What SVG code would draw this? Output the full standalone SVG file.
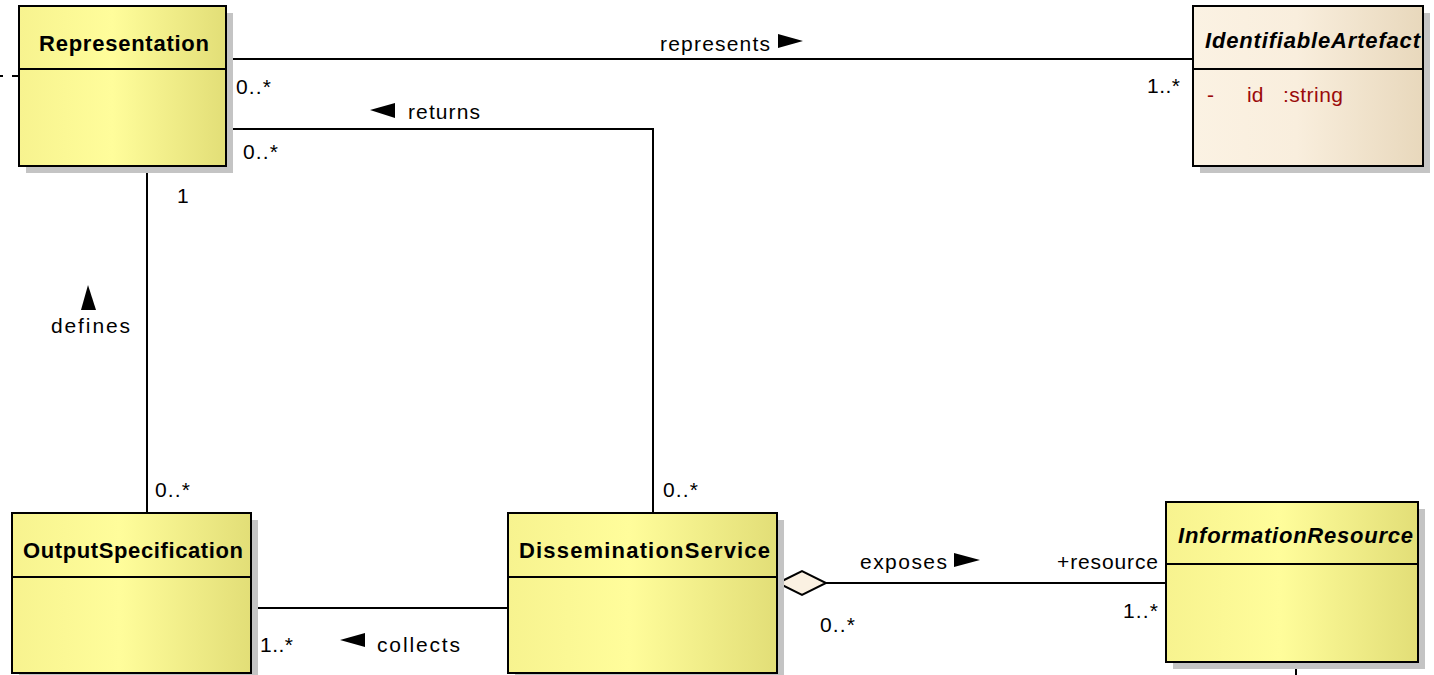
<svg xmlns="http://www.w3.org/2000/svg" width="1434" height="675" viewBox="0 0 1434 675">
  <defs>
    <linearGradient id="classFill" x1="0" y1="0" x2="1" y2="0">
      <stop offset="0" stop-color="#F7F38F"/>
      <stop offset="0.45" stop-color="#FFFD9B"/>
      <stop offset="1" stop-color="#E2DE77"/>
    </linearGradient>
    <linearGradient id="abstractFill" x1="0" y1="0" x2="1" y2="0">
      <stop offset="0" stop-color="#FBF2E3"/>
      <stop offset="0.45" stop-color="#F9EEDD"/>
      <stop offset="1" stop-color="#E8D8BC"/>
    </linearGradient>
    <style>
      .shadow { fill: #C4C4C4; }
      .box { stroke: #000; stroke-width: 2; }
      .cls { fill: url(#classFill); }
      .abs { fill: url(#abstractFill); }
      .sep { stroke: #000; stroke-width: 2; }
      .title { font-family: "Liberation Sans", Arial, sans-serif; font-weight: bold; font-size: 22px; fill: #000; }
      .italic { font-style: italic; }
      .lbl { font-family: "Liberation Sans", Arial, sans-serif; font-size: 21px; fill: #000; }
      .attr { font-family: "Liberation Sans", Arial, sans-serif; font-size: 21px; fill: #9B0A0A; }
      .conn { fill: none; stroke: #000; stroke-width: 2; }
      .dash { fill: none; stroke: #000; stroke-width: 2; stroke-dasharray: 6 9; }
      .dir { fill: #000; }
    </style>
  </defs>

  <!-- associations -->
  <g id="connectors">
    <line class="dash" x1="-3" y1="76" x2="19" y2="76"/>
    <!-- represents -->
    <line class="conn" x1="226" y1="59" x2="1193" y2="59"/>
    <text class="lbl" x="660" y="51" textLength="110">represents</text>
    <polygon class="dir" points="778,34 803,41 778,48"/>
    <text class="lbl" x="236" y="94" textLength="35">0..*</text>
    <text class="lbl" x="1147" y="93" textLength="33">1..*</text>
    <!-- returns -->
    <polyline class="conn" points="226,129 653,129 653,513"/>
    <polygon class="dir" points="395,103 370,110 395,118"/>
    <text class="lbl" x="408" y="119" textLength="72">returns</text>
    <text class="lbl" x="243" y="159" textLength="35">0..*</text>
    <text class="lbl" x="663" y="497" textLength="35">0..*</text>
    <!-- defines -->
    <line class="conn" x1="147" y1="166" x2="147" y2="513"/>
    <text class="lbl" x="177" y="203">1</text>
    <polygon class="dir" points="81,310 88,285 96,310"/>
    <text class="lbl" x="51" y="333" textLength="79">defines</text>
    <text class="lbl" x="155" y="497" textLength="35">0..*</text>
    <!-- collects -->
    <line class="conn" x1="251" y1="608" x2="508" y2="608"/>
    <text class="lbl" x="260" y="652" textLength="33">1..*</text>
    <polygon class="dir" points="365,633 340,640 365,647"/>
    <text class="lbl" x="377" y="652" textLength="83">collects</text>
    <!-- exposes (aggregation) -->
    <line class="conn" x1="826" y1="583" x2="1166" y2="583"/>
    <polygon points="778,583 802,571 826,583 802,595" fill="#FBF1E2" stroke="#000" stroke-width="2"/>
    <text class="lbl" x="860" y="569" textLength="87">exposes</text>
    <polygon class="dir" points="954,553 980,560 954,567"/>
    <text class="lbl" x="1057" y="569" textLength="101">+resource</text>
    <text class="lbl" x="1123" y="618" textLength="35">1..*</text>
    <text class="lbl" x="820" y="632" textLength="35">0..*</text>
    <line class="conn" x1="1296" y1="662" x2="1296" y2="676"/>
  </g>

  <g id="Representation">
    <rect class="shadow" x="26" y="13" width="207" height="160"/>
    <rect class="box cls" x="19" y="6" width="207" height="160"/>
    <line class="sep" x1="19" y1="69" x2="226" y2="69"/>
    <text class="title" x="39" y="51" textLength="170">Representation</text>
  </g>

  <g id="IdentifiableArtefact">
    <rect class="shadow" x="1200" y="13" width="230" height="160"/>
    <rect class="box abs" x="1193" y="6" width="230" height="160"/>
    <line class="sep" x1="1193" y1="69" x2="1423" y2="69"/>
    <text class="title italic" x="1205" y="48" textLength="215">IdentifiableArtefact</text>
    <text class="attr" y="102"><tspan x="1207">-</tspan><tspan x="1247">id</tspan><tspan x="1283" textLength="60">:string</tspan></text>
  </g>

  <g id="OutputSpecification">
    <rect class="shadow" x="19" y="520" width="239" height="160"/>
    <rect class="box cls" x="12" y="513" width="239" height="160"/>
    <line class="sep" x1="12" y1="577" x2="251" y2="577"/>
    <text class="title" x="23" y="558" textLength="220">OutputSpecification</text>
  </g>

  <g id="DisseminationService">
    <rect class="shadow" x="515" y="520" width="269" height="160"/>
    <rect class="box cls" x="508" y="513" width="269" height="160"/>
    <line class="sep" x1="508" y1="577" x2="777" y2="577"/>
    <text class="title" x="519" y="558" textLength="251">DisseminationService</text>
  </g>

  <g id="InformationResource">
    <rect class="shadow" x="1173" y="509" width="252" height="160"/>
    <rect class="box cls" x="1166" y="502" width="252" height="160"/>
    <line class="sep" x1="1166" y1="564" x2="1418" y2="564"/>
    <text class="title italic" x="1178" y="543" textLength="235">InformationResource</text>
  </g>
</svg>
